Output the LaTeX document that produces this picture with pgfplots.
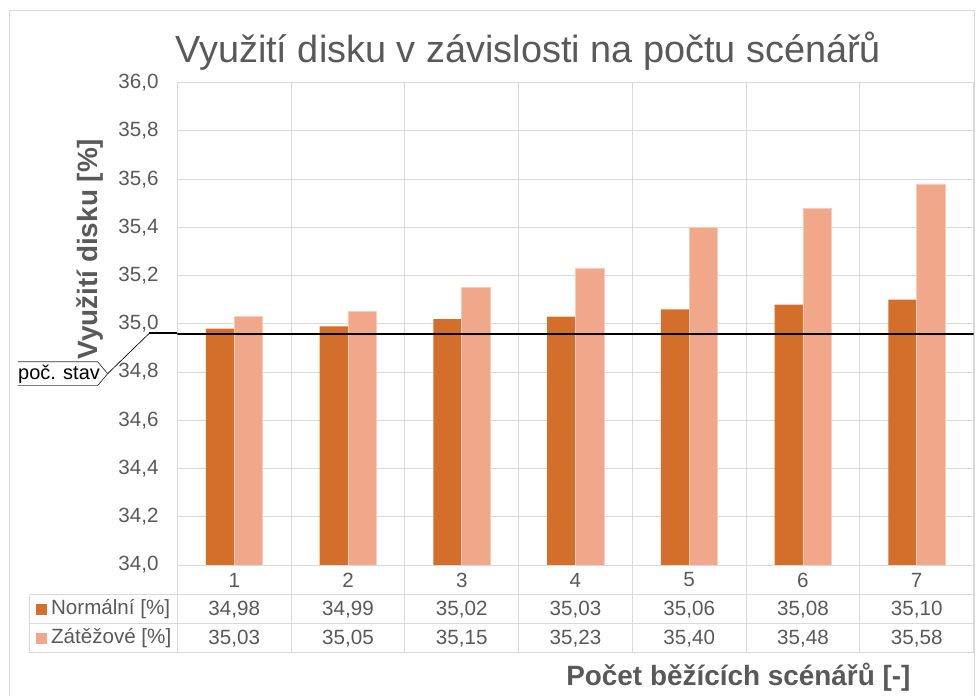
\documentclass[border=0pt]{standalone}
\usepackage{fontspec}
\setmainfont{Liberation Sans}
\usepackage{pgfplots}
\pgfplotsset{compat=1.18}

\definecolor{dk}{HTML}{D36F2A}
\definecolor{lt}{HTML}{F1A88A}
\definecolor{grd}{HTML}{D9D9D9}
\definecolor{txt}{HTML}{595959}

\newcommand\fs[1]{\fontsize{#1}{#1}\selectfont}

\begin{document}
\begin{tikzpicture}
% frame, 1 unit = 1 px of the reference
\begin{scope}[x=0.75pt,y=-0.75pt]
\useasboundingbox (0,0) rectangle (978,697);
\draw[grd,line width=0.75pt] (10,710) -- (10,11) -- (977.5,11) -- (977.5,710);
\end{scope}

\begin{axis}[
  at={(133.5pt,-425.25pt)},anchor=south west,
  scale only axis,width=599.25pt,height=363pt,
  xmin=0.5,xmax=7.5,ymin=34,ymax=36,
  xtick={0.5,1.5,2.5,3.5,4.5,5.5,6.5,7.5},xticklabels={},
  ytick={34,34.2,34.4,34.6,34.8,35,35.2,35.4,35.6,35.8,36},
  major tick length=0pt,
  xmajorgrids,ymajorgrids,
  grid style={grd,line width=0.75pt},
  axis line style={draw=none},
  yticklabel style={
    font=\fs{15.5}, text=txt, inner sep=0pt, xshift=-14pt,
    /pgf/number format/.cd,fixed,fixed zerofill,precision=1,use comma,
    assume math mode=true},
]
\addplot[ybar,bar width=21.4pt,bar shift=-10.7pt,fill=dk,draw=none]
  coordinates {(1,34.98)(2,34.99)(3,35.02)(4,35.03)(5,35.06)(6,35.08)(7,35.10)};
\addplot[ybar,bar width=21.4pt,bar shift=10.7pt,fill=lt,draw=lt!60!white,line width=0.5pt]
  coordinates {(1,35.03)(2,35.05)(3,35.15)(4,35.23)(5,35.40)(6,35.48)(7,35.58)};
\addplot[black,line width=1.5pt,forget plot] coordinates {(0.5,34.96)(7.5,34.96)};
\end{axis}

\begin{scope}[x=0.75pt,y=-0.75pt]
% title and axis titles
\node[anchor=base,text=txt,font=\fs{28.5}] at (530,63) {Využití disku v závislosti na počtu scénářů};
\node[anchor=base,text=txt,font=\fs{21}\bfseries] at (741,688) {Počet běžících scénářů [-]};
\node[anchor=base,rotate=90,text=txt,font=\fs{21}\bfseries] at (98,250) {Využití disku [\%]};

% callout for the initial state line
\draw[black,line width=1.5pt] (150,334.3) -- (178,334.3);
\draw[black,line width=0.5pt] (150,334.3) -- (108,375);
\draw[black!80,line width=0.5pt] (18,363) -- (98,363) -- (108,375) -- (98,387) -- (18,387);
\node[anchor=west,inner sep=0pt,font=\fs{15}] at (18,375.5) {poč. stav};

% data table
\draw[grd,line width=0.75pt] (178,567) -- (977,567)
  (30,597) -- (977,597) (30,626) -- (977,626) (30,655) -- (977,655)
  (30,597) -- (30,655);
\foreach \k in {0,...,7} \draw[grd,line width=0.75pt] ({178+114.14*\k},567) -- ({178+114.14*\k},655);
\foreach \i/\a/\b in {1/{34,98}/{35,03},2/{34,99}/{35,05},3/{35,02}/{35,15},4/{35,03}/{35,23},5/{35,06}/{35,40},6/{35,08}/{35,48},7/{35,10}/{35,58}}{
  \node[text=txt,font=\fs{15.5}] at ({178+114.14*(\i-0.5)},582) {\i};
  \node[text=txt,font=\fs{15.5}] at ({178+114.14*(\i-0.5)},611.5) {\a};
  \node[text=txt,font=\fs{15.5}] at ({178+114.14*(\i-0.5)},640.5) {\b};
}
\fill[dk] (36,606) rectangle (47,617);
\fill[lt] (36,635) rectangle (47,646);
\node[anchor=west,inner sep=0pt,text=txt,font=\fs{15.5}] at (51,611.5) {Normální [\%]};
\node[anchor=west,inner sep=0pt,text=txt,font=\fs{15.5}] at (51,640.5) {Zátěžové [\%]};
\end{scope}
\end{tikzpicture}
\end{document}
